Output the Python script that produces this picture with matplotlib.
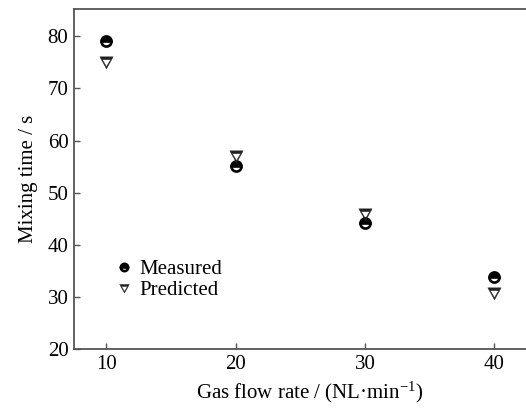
import matplotlib
matplotlib.use("Agg")
import matplotlib.pyplot as plt
from matplotlib.path import Path
import numpy as np

flow = [10, 20, 30, 40]
measured = [79.0, 55.2, 44.2, 33.8]
predicted = [75.0, 57.0, 46.0, 30.7]
yticks = [20, 30, 40, 50, 60, 70, 80]
xticks = [10, 20, 30, 40]

plt.rcParams['font.family'] = ['Liberation Serif', 'DejaVu Serif']
plt.rcParams['mathtext.fontset'] = 'custom'
plt.rcParams['mathtext.rm'] = 'Liberation Serif'
plt.rcParams['mathtext.it'] = 'Liberation Serif:italic'

fig = plt.figure(figsize=(5.26, 4.08), dpi=100)
ax = fig.add_axes([74/526, 58.7/408, 472/526, 340.3/408])

# triangle-with-bar marker
outer = [(-1, 0.85), (0, -0.95), (1, 0.85), (-1, 0.85)]
inner = [(-0.62, 0.42), (0.62, 0.42), (0, -0.62), (-0.62, 0.42)]
verts = outer + inner
codes = [Path.MOVETO, Path.LINETO, Path.LINETO, Path.CLOSEPOLY] * 2
tri = Path(verts, codes)

ax.plot(flow, measured, linestyle='none', marker='o', markersize=7.3,
        markerfacecolor='black', fillstyle='top', markerfacecoloralt='white',
        markeredgecolor='black', markeredgewidth=1.9, label='Measured')
ax.plot(flow, predicted, linestyle='none', marker=tri, markersize=9.6,
        markerfacecolor='#222222', markeredgecolor='#222222', markeredgewidth=0.3,
        label='Predicted')

ax.set_xlim(7.5, 44.0)
ax.set_ylim(20, 85.2)
ax.set_xticks(xticks)
ax.set_yticks(yticks)
ax.tick_params(direction='in', length=4, width=1.0, color='#555555',
               labelsize=15, pad=4)
for side in ['left', 'bottom', 'top']:
    ax.spines[side].set_color('#555555')
    ax.spines[side].set_linewidth(1.3)
ax.spines['right'].set_visible(False)

ax.set_xlabel('Gas flow rate / (NL·min$^{-1}$)', fontsize=15, labelpad=4)
ax.set_ylabel('Mixing time / s', fontsize=15, labelpad=7)

leg = ax.legend(loc='center left', bbox_to_anchor=(0.086, 0.204), frameon=False,
                fontsize=15, markerscale=0.72, handlelength=0.9, handletextpad=0.3,
                labelspacing=0.05, borderpad=0, borderaxespad=0)

fig.savefig('out.png', dpi=100)
